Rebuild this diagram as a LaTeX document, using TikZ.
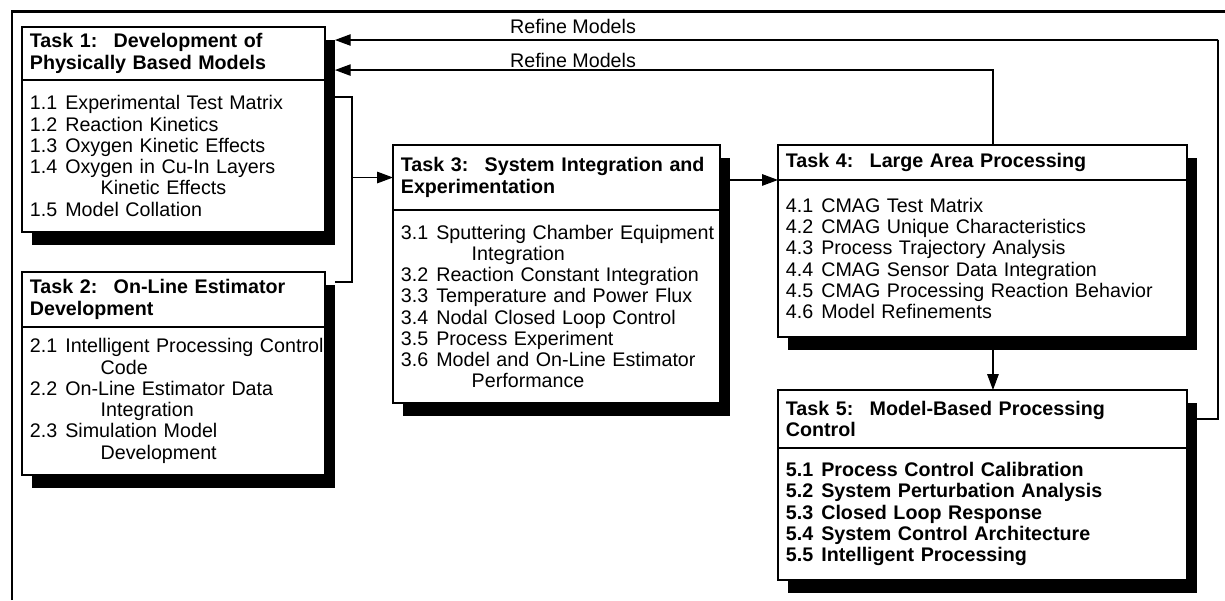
\documentclass[tikz,border=0pt]{standalone}
\usepackage{fontspec}
\setmainfont{Liberation Sans}
\usetikzlibrary{positioning,shadows,arrows.meta}

\newcommand{\itm}[2]{\mbox{\makebox[1.8em][l]{#1}#2}}
\newcommand{\cont}[1]{\mbox{\hspace*{3.6em}#1}}

\tikzset{
  task/.style={draw, line width=1.3pt, fill=white, outer sep=0pt,
    inner xsep=4.5pt, inner ysep=2pt, align=left,
    font=\fontsize{11.2}{12.1}\selectfont,
    drop shadow={shadow xshift=5.7pt, shadow yshift=-7.5pt, fill=black, opacity=1}},
  head/.style={task, font=\fontsize{11.2}{12.1}\selectfont\bfseries},
  conn/.style={line width=0.7pt},
  arr/.style={conn, -{Triangle[length=9pt,width=6.5pt]}},
  lbl/.style={font=\fontsize{11.2}{12.1}\selectfont, inner sep=0pt}
}

\begin{document}
\begin{tikzpicture}[x=0.02cm, y=-0.02cm]
  \useasboundingbox (0,0) rectangle (1225,600);

  % outer frame
  \draw[line width=1.7pt] (12,600) -- (12,11) -- (1225,11);

  % task 1
  \node[head, text width=163.4pt, minimum height=30.2pt, anchor=north west] (t1h) at (22,27)
    {Task 1:~ Development of\\Physically Based Models};
  \node[task, text width=163.4pt, minimum height=86.5pt, below=0pt of t1h] (t1b)
    {\itm{1.1}{Experimental Test Matrix}\\
     \itm{1.2}{Reaction Kinetics}\\
     \itm{1.3}{Oxygen Kinetic Effects}\\
     \itm{1.4}{Oxygen in Cu-In Layers}\\
     \cont{Kinetic Effects}\\
     \itm{1.5}{Model Collation}};

  % task 2
  \node[head, text width=163.4pt, minimum height=31.3pt, anchor=north west] (t2h) at (22,272)
    {Task 2:~ On-Line Estimator\\Development};
  \node[task, text width=163.4pt, minimum height=84.2pt, below=0pt of t2h] (t2b)
    {\itm{2.1}{Intelligent Processing Control}\\
     \cont{Code}\\
     \itm{2.2}{On-Line Estimator Data}\\
     \cont{Integration}\\
     \itm{2.3}{Simulation Model}\\
     \cont{Development}};

  % task 3
  \node[head, text width=177.1pt, minimum height=37pt, anchor=north west] (t3h) at (393,145)
    {Task 3:~ System Integration and\\Experimentation};
  \node[task, text width=177.1pt, minimum height=109.8pt, below=0pt of t3h] (t3b)
    {\itm{3.1}{Sputtering Chamber Equipment}\\
     \cont{Integration}\\
     \itm{3.2}{Reaction Constant Integration}\\
     \itm{3.3}{Temperature and Power Flux}\\
     \itm{3.4}{Nodal Closed Loop Control}\\
     \itm{3.5}{Process Experiment}\\
     \itm{3.6}{Model and On-Line Estimator}\\
     \cont{Performance}};

  % task 4
  \node[head, text width=223.7pt, minimum height=19.9pt, anchor=north west] (t4h) at (778,145)
    {Task 4:~ Large Area Processing};
  \node[task, text width=223.7pt, minimum height=89.3pt, below=0pt of t4h] (t4b)
    {\itm{4.1}{CMAG Test Matrix}\\
     \itm{4.2}{CMAG Unique Characteristics}\\
     \itm{4.3}{Process Trajectory Analysis}\\
     \itm{4.4}{CMAG Sensor Data Integration}\\
     \itm{4.5}{CMAG Processing Reaction Behavior}\\
     \itm{4.6}{Model Refinements}};

  % task 5
  \node[head, text width=223.7pt, minimum height=33pt, anchor=north west] (t5h) at (778,390)
    {Task 5:~ Model-Based Processing\\Control};
  \node[head, text width=223.7pt, minimum height=75.1pt, below=0pt of t5h] (t5b)
    {\itm{5.1}{Process Control Calibration}\\
     \itm{5.2}{System Perturbation Analysis}\\
     \itm{5.3}{Closed Loop Response}\\
     \itm{5.4}{System Control Architecture}\\
     \itm{5.5}{Intelligent Processing}};

  % joints
  \coordinate (t1o) at ([xshift=5.7pt,yshift=-9.7pt]t1b.north east);
  \coordinate (t2o) at ([xshift=5.7pt,yshift=-5.7pt]t2h.north east);
  \coordinate (jn) at ([xshift=-23.3pt]t3h.west);
  \coordinate (t3o) at ([xshift=5.7pt]t3h.east);
  \coordinate (t1in1) at ([xshift=5.7pt,yshift=7.7pt]t1h.east);
  \coordinate (t1in2) at ([xshift=5.7pt,yshift=-9.4pt]t1h.east);
  \coordinate (fb1) at (1218,40);

  \draw[conn] (t1o) -| (jn) |- (t2o);
  \draw[arr] (jn) -- (t3h.west);
  \draw[arr] (t3o |- t4b.north west) -- (t4b.north west);
  \draw[arr] ([xshift=6pt,yshift=-7.5pt]t4b.south) -- ([xshift=6pt]t5h.north);

  % feedback
  \draw[arr] ([xshift=5.7pt]t5h.east) -| (fb1) |- (t1in1);
  \draw[arr] ([xshift=6pt]t4h.north) |- (t1in2);
  \node[lbl, anchor=base] (rm1) at (573,33) {Refine Models};
  \node[lbl, anchor=base] (rm2) at (573,67) {Refine Models};
\end{tikzpicture}
\end{document}
